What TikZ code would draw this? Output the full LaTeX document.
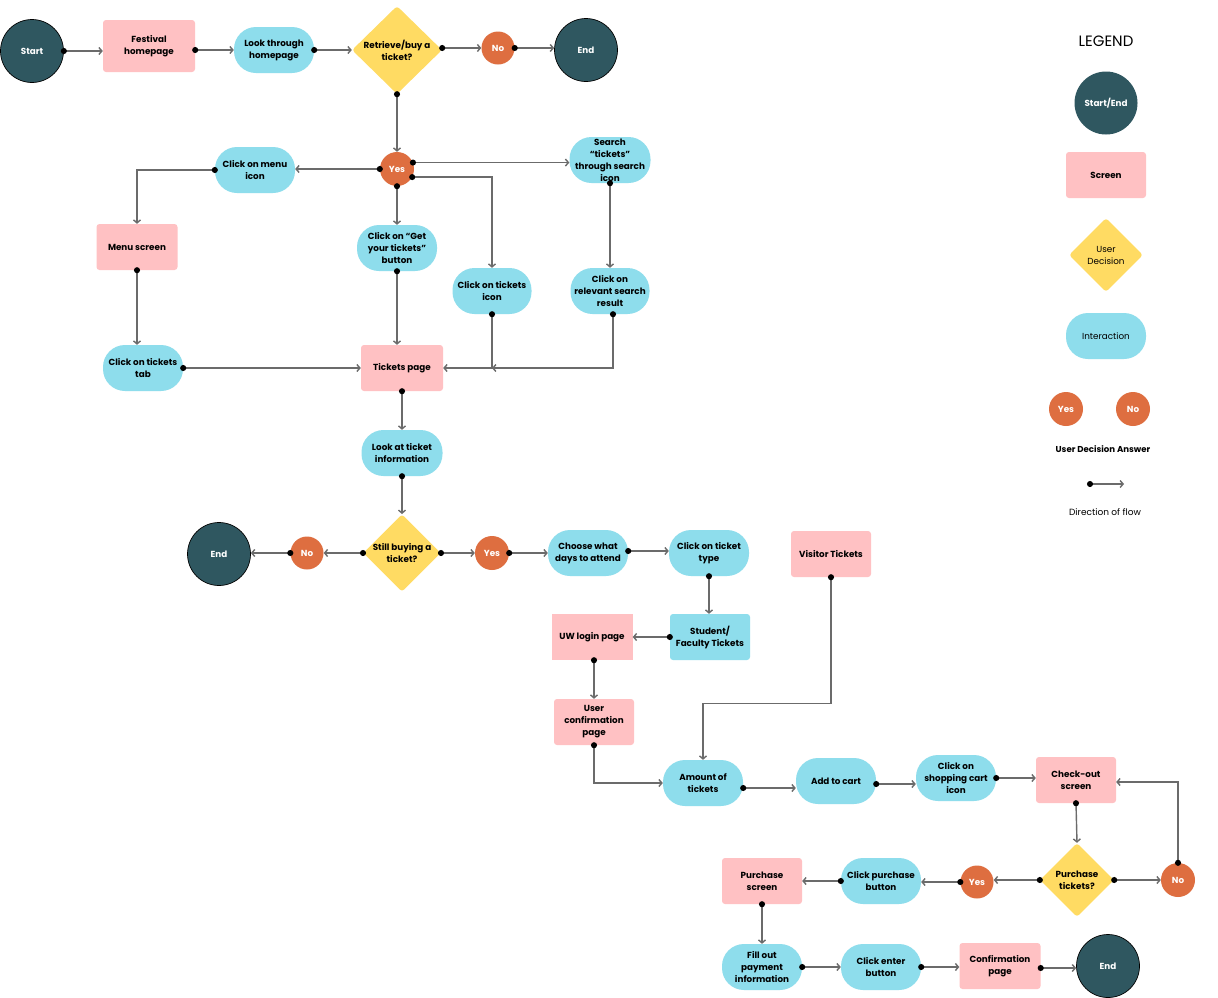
\documentclass[tikz,border=0pt]{standalone}
\usepackage{fontspec}
\setmainfont{Poppins}
\usetikzlibrary{shapes.geometric,arrows.meta,calc}
\definecolor{cteal}{HTML}{2F5760}
\definecolor{cpink}{HTML}{FFC1C3}
\definecolor{cblue}{HTML}{8EDDEC}
\definecolor{cyellow}{HTML}{FFDB63}
\definecolor{corange}{HTML}{DE6E40}
\definecolor{cline}{HTML}{6B6B6B}
\begin{document}
\begin{tikzpicture}[x=1pt,y=-1pt,
  base/.style={align=center,inner sep=0.5pt,font=\fontsize{8.8}{12}\selectfont\bfseries,text=black},
  startend/.style={base,circle,fill=cteal,draw=black,line width=0.7pt,minimum size=63pt,text=white},
  screen/.style={base,rectangle,fill=cpink,rounded corners=3pt,minimum width=80pt,minimum height=46pt},
  sharpscreen/.style={base,rectangle,fill=cpink,minimum width=81pt,minimum height=46pt},
  inter/.style={base,rectangle,fill=cblue,rounded corners=22pt,minimum width=80pt,minimum height=46pt},
  interbox/.style={base,rectangle,fill=cblue,rounded corners=3pt,minimum width=80pt,minimum height=46pt},
  decision/.style={base,diamond,fill=cyellow,rounded corners=3pt,inner sep=0pt,minimum width=90pt,minimum height=88pt},
  ans/.style={base,circle,fill=corange,minimum size=33pt,text=white},
  flow/.style={draw=cline,line width=1.4pt,{Circle[black,length=6pt,width=6pt]}-{Straight Barb[length=3pt,width=7pt]},shorten <=-3pt}
]
\useasboundingbox (0,0) rectangle (1218,997);
\fill[white] (0,0) rectangle (1218,997);

% top row
\node[startend] (start) at (32,51) {Start};
\node[screen,minimum width=92pt,minimum height=52pt] (festival) at (149,46) {Festival\\homepage};
\node[inter] (look) at (274,50) {Look through\\homepage};
\node[decision] (retrieve) at (397,50) {Retrieve/buy a\\ticket?};
\node[ans] (no1) at (498,48) {No};
\node[startend] (end1) at (586,50) {End};

% yes branch
\node[ans,minimum size=34pt] (yes1) at (397,169) {Yes};
\node[inter] (menuicon) at (255,170) {Click on menu\\icon};
\node[screen,minimum width=81pt] (menuscreen) at (137,247) {Menu screen};
\node[inter] (ttab) at (143,368) {Click on tickets\\tab};
\node[inter] (getbtn) at (397,248) {Click on “Get\\your tickets”\\button};
\node[inter,minimum width=81pt] (search) at (610,160) {Search\\“tickets”\\through search\\icon};
\node[inter,minimum width=79pt] (ticon) at (492,291) {Click on tickets\\icon};
\node[inter,minimum width=79pt] (relevant) at (610,291) {Click on\\relevant search\\result};
\node[screen,minimum width=82pt] (tpage) at (402,368) {Tickets page};
\node[inter,minimum width=81pt] (lookinfo) at (402,453) {Look at ticket\\information};

% second decision
\node[decision,minimum width=77pt,minimum height=75pt] (still) at (402,553) {Still buying a\\ticket?};
\node[ans] (no2) at (307,553) {No};
\node[startend] (end2) at (219,554) {End};
\node[ans,minimum size=34pt] (yes2) at (492,553) {Yes};
\node[inter] (choose) at (588,553) {Choose what\\days to attend};
\node[inter] (ttype) at (709,553) {Click on ticket\\type};
\node[interbox] (student) at (710,637) {Student/\\Faculty Tickets};
\node[sharpscreen] (uwlogin) at (592,637) {UW login page};
\node[screen] (uconf) at (594,722) {User\\confirmation\\page};
\node[screen] (visitor) at (831,554) {Visitor Tickets};
\node[inter] (amount) at (703,783) {Amount of\\tickets};
\node[inter] (addcart) at (836,781) {Add to cart};
\node[inter] (cart) at (956,778) {Click on\\shopping cart\\icon};
\node[screen] (checkout) at (1076,780) {Check-out\\screen};

% purchase decision
\node[decision,minimum width=74pt,minimum height=74pt] (purchase) at (1077,880) {Purchase\\tickets?};
\node[ans,minimum size=34pt] (no3) at (1178,880) {No};
\node[ans] (yes3) at (977,882) {Yes};
\node[inter] (pbutton) at (881,881) {Click purchase\\button};
\node[screen] (pscreen) at (762,881) {Purchase\\screen};
\node[inter] (fillout) at (762,967) {Fill out\\payment\\information};
\node[inter] (enter) at (881,967) {Click enter\\button};
\node[screen,minimum width=81pt] (confirm) at (1000,966) {Confirmation\\page};
\node[startend] (end3) at (1108,966) {End};

% connectors
\draw[flow] (start.east) -- (start.east -| festival.west);
\draw[flow] (festival.east |- look.west) -- (look.west);
\draw[flow] (look.east) -- (retrieve.west);
\draw[flow] (retrieve.east |- no1.west) -- (no1.west);
\draw[flow] (no1.east) -- (no1.east -| end1.west);
\draw[flow] (retrieve.south) -- (yes1.north);
\draw[flow] (yes1.west) -- (yes1.west -| menuicon.east);
\draw[flow] (menuicon.west) -| (menuscreen.north);
\draw[flow] (menuscreen.south) -- (menuscreen.south |- ttab.north);
\draw[flow] (ttab.east) -- (tpage.west);
\draw[flow] (yes1.south) -- (getbtn.north);
\draw[flow] (getbtn.south) -- (getbtn.south |- tpage.north);
\draw[flow] (yes1.22) -- (yes1.22 -| search.west);
\draw[flow] (yes1.-28) -| (ticon.north);
\draw[flow] (search.south) -- (relevant.north);
\draw[flow] ([xshift=3pt]relevant.south) |- (ticon.south |- tpage.east);
\draw[flow] (ticon.south) |- (tpage.east);
\draw[flow] (tpage.south) -- (lookinfo.north);
\draw[flow] (lookinfo.south) -- (still.north);
\draw[flow] (still.west) -- (no2.east);
\draw[flow] (no2.west) -- (no2.west -| end2.east);
\draw[flow] (still.east) -- (yes2.west);
\draw[flow] (yes2.east) -- (choose.west);
\draw[flow] ([yshift=2pt]choose.east) -- ([yshift=2pt]ttype.west);
\draw[flow] (ttype.south) -- (ttype.south |- student.north);
\draw[flow] (student.west) -- (uwlogin.east);
\draw[flow] ([xshift=2pt]uwlogin.south) -- ([xshift=2pt]uwlogin.south |- uconf.north);
\draw[flow] (uconf.south) |- (amount.west);
\draw[flow] (visitor.south) -- ++(0,126) -| (amount.north);
\draw[flow] ([yshift=-5pt]amount.east) -- ([yshift=-5pt]amount.east -| addcart.west);
\draw[flow] ([yshift=-3pt]addcart.east) -- ([yshift=-3pt]addcart.east -| cart.west);
\draw[flow] (cart.east) -- (cart.east -| checkout.west);
\draw[flow] (checkout.south) -- (purchase.north);
\draw[flow] (purchase.east) -- (no3.west);
\draw[flow] (no3.north) |- ([yshift=-2pt]checkout.east);
\draw[flow] (purchase.west) -- (purchase.west -| yes3.east);
\draw[flow] (yes3.west) -- (yes3.west -| pbutton.east);
\draw[flow] (pbutton.west) -- (pbutton.west -| pscreen.east);
\draw[flow] (pscreen.south) -- (fillout.north);
\draw[flow] (fillout.east) -- (enter.west);
\draw[flow] (enter.east) -- (enter.east -| confirm.west);
\draw[flow] ([yshift=-2pt]confirm.east) -- ([yshift=-2pt]confirm.east -| end3.west);

% legend
\node[font=\fontsize{15}{17}\selectfont] (legtitle) at (1106,41) {LEGEND};
\node[startend,draw=none] (legse) at (1106,103) {Start/End};
\node[screen] (legscreen) at (1106,175) {Screen};
\node[decision,minimum width=74pt,minimum height=74pt,font=\fontsize{8.8}{12}\selectfont] (legdec) at (1106,255) {User\\Decision};
\node[inter,font=\fontsize{8.8}{12}\selectfont] (leginter) at (1106,336) {Interaction};
\node[ans,minimum size=34pt] (legyes) at (1066,409) {Yes};
\node[ans,minimum size=34pt] (legno) at (1133,409) {No};
\node[base,font=\fontsize{8.6}{10}\selectfont\bfseries] (legans) at (1103,449) {User Decision Answer};
\coordinate (lega) at (1087,484);
\coordinate (legb) at (1124,484);
\draw[flow,shorten <=0pt] (lega) -- (legb);
\node[base,font=\fontsize{9}{11}\selectfont] (legflow) at (1105,512) {Direction of flow};
\end{tikzpicture}
\end{document}
